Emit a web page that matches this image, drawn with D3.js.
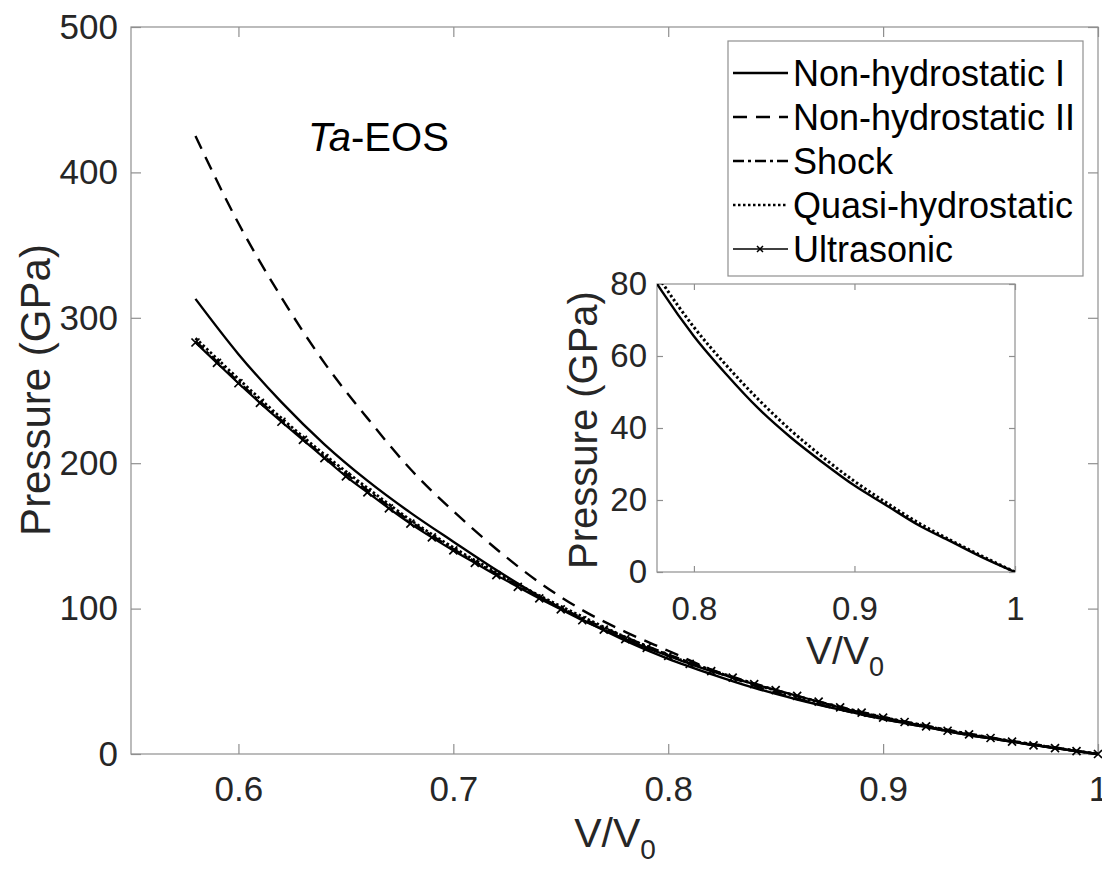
<!DOCTYPE html>
<html>
<head>
<meta charset="utf-8">
<script src="https://d3js.org/d3.v7.min.js"></script>
<style>
  body { margin: 0; background: #fff; font-family: "Liberation Sans", Arial, Helvetica, sans-serif; }
</style>
</head>
<body>
<script>
// V/V0 grid for the smooth EOS curves
const vGrid = [0.58, 0.60, 0.62, 0.64, 0.66, 0.68, 0.70, 0.72, 0.74, 0.76, 0.78,
               0.80, 0.82, 0.84, 0.86, 0.88, 0.90, 0.92, 0.94, 0.96, 0.98, 1.00]
const nonHydroI  = [313, 275, 242, 213, 188, 166, 146, 126.5, 108.5, 92.5, 78,
                    65.5, 55, 45.5, 37.5, 30.5, 24, 18.5, 13, 8.5, 4, 0]
const nonHydroII = [425, 365, 314, 269, 231, 196, 167, 141, 118, 99, 84,
                    71, 58, 47, 38, 30.5, 24, 18.5, 13, 8.5, 4, 0]
const shock      = [284, 256, 229.5, 204.5, 181.5, 160, 141, 124, 108, 93.5, 80.5,
                    68.5, 58, 48.5, 40, 32.5, 25.5, 19.5, 14, 9, 4.5, 0]
const quasi      = [286, 258, 231, 206, 183, 161, 142, 125, 109, 94.5, 80.5,
                    68, 57.5, 48, 39.5, 32, 25.2, 19.2, 13.6, 8.8, 4.3, 0]

// ultrasonic data (with markers)
const vUltra = [0.58, 0.59, 0.60, 0.61, 0.62, 0.63, 0.64, 0.65, 0.66, 0.67, 0.68, 0.69,
                0.70, 0.71, 0.72, 0.73, 0.74, 0.75, 0.76, 0.77, 0.78, 0.79, 0.80, 0.81,
                0.82, 0.83, 0.84, 0.85, 0.86, 0.87, 0.88, 0.89, 0.90, 0.91, 0.92, 0.93,
                0.94, 0.95, 0.96, 0.97, 0.98, 0.99, 1.00]
const ultrasonic = [283, 269, 255, 241.5, 228.5, 216, 203.5, 191, 180, 169, 158.5, 149,
                    140, 131.5, 123, 115, 107, 99.5, 92, 85.5, 79, 73, 67.5, 62,
                    57, 52.5, 48, 44, 40, 36, 32, 28.5, 25, 22, 19, 16,
                    13.5, 11, 8.5, 6, 4, 2, 0]

const mainXTicks = [0.6, 0.7, 0.8, 0.9, 1]
const mainYTicks = [0, 100, 200, 300, 400, 500]
const insetXTicks = [0.8, 0.9, 1]
const insetYTicks = [0, 20, 40, 60, 80]

const legendNames = ['Non-hydrostatic I', 'Non-hydrostatic II', 'Shock', 'Quasi-hydrostatic', 'Ultrasonic']
const dashes = ['none', '14,9', '11,4,3,4', '2.5,2.5', 'none']

const width = 1102, height = 876
const axisColor = '#8f8f8f', textColor = '#262626'

const svg = d3.select('body').append('svg').attr('width', width).attr('height', height)

function fmt(d) { return d === 1 ? '1' : String(d) }

function drawAxes(g, x, y, xt, yt, tick, fs, xPad, yPad) {
  const [x0, x1] = x.range(), [y0, y1] = y.range()
  g.append('rect').attr('x', x0).attr('y', y1).attr('width', x1 - x0).attr('height', y0 - y1)
    .attr('fill', 'none').attr('stroke', axisColor).attr('stroke-width', 1.2)
  const ax = [
    [d3.axisBottom(x).tickValues(xt).tickFormat(fmt).tickPadding(xPad), `translate(0,${y0})`],
    [d3.axisTop(x).tickValues(xt).tickFormat(''), `translate(0,${y1})`],
    [d3.axisLeft(y).tickValues(yt).tickFormat(d3.format('d')).tickPadding(yPad), `translate(${x0},0)`],
    [d3.axisRight(y).tickValues(yt).tickFormat(''), `translate(${x1},0)`]
  ]
  ax.forEach(([a, t]) => {
    const s = g.append('g').attr('transform', t)
      .call(a.tickSizeInner(-tick).tickSizeOuter(0))
    s.select('.domain').remove()
    s.selectAll('line').attr('stroke', axisColor).attr('stroke-width', 1.2)
    s.selectAll('text').attr('fill', textColor).style('font-size', fs + 'px')
      .style('font-family', '"Liberation Sans", Arial, sans-serif')
  })
}

// ---------- main axes ----------
const x = d3.scaleLinear().domain([0.55, 1]).range([131, 1098])
const y = d3.scaleLinear().domain([0, 500]).range([754, 27])

const main = svg.append('g')
drawAxes(main, x, y, mainXTicks, mainYTicks, 10, 35, 22, 13)

const line = d3.line().x(d => x(d[0])).y(d => y(d[1])).curve(d3.curveMonotoneX)
const series = [nonHydroI, nonHydroII, shock, quasi]
series.forEach((s, i) => {
  main.append('path').attr('d', line(vGrid.map((v, j) => [v, s[j]])))
    .attr('fill', 'none').attr('stroke', '#000')
    .attr('stroke-width', i === 3 ? 2.8 : 2.4)
    .attr('stroke-dasharray', dashes[i])
})
const ultraPts = vUltra.map((v, j) => [v, ultrasonic[j]])
main.append('path').attr('d', line(ultraPts))
  .attr('fill', 'none').attr('stroke', '#000').attr('stroke-width', 2.2)
const xMark = 'M-4,-4L4,4M-4,4L4,-4'
main.selectAll('.mk').data(ultraPts).join('path')
  .attr('transform', d => `translate(${x(d[0])},${y(d[1])})`)
  .attr('d', xMark).attr('stroke', '#000').attr('stroke-width', 1.7).attr('fill', 'none')

// labels
main.append('text').attr('transform', 'translate(50,390) rotate(-90)').attr('text-anchor', 'middle')
  .attr('fill', textColor).style('font-size', '42px').text('Pressure (GPa)')
const xl = main.append('text').attr('x', 615).attr('y', 847).attr('text-anchor', 'middle')
  .attr('fill', textColor).style('font-size', '41px')
xl.append('tspan').text('V/V')
xl.append('tspan').attr('dy', 12).style('font-size', '28px').text('0')

const ttl = main.append('text').attr('x', 308).attr('y', 151).attr('fill', '#000').style('font-size', '40px')
ttl.append('tspan').style('font-style', 'italic').text('Ta')
ttl.append('tspan').text('-EOS')

// ---------- legend ----------
const lg = svg.append('g')
lg.append('rect').attr('x', 728).attr('y', 41).attr('width', 355).attr('height', 235)
  .attr('fill', '#fff').attr('stroke', axisColor).attr('stroke-width', 1.2)
legendNames.forEach((name, i) => {
  const cy = 73 + i * 44
  lg.append('line').attr('x1', 733).attr('x2', 788).attr('y1', cy).attr('y2', cy)
    .attr('stroke', '#000').attr('stroke-width', i === 4 ? 1.6 : 2.4).attr('stroke-dasharray', dashes[i])
  if (i === 4) lg.append('path').attr('transform', `translate(760,${cy})`).attr('d', 'M-3,-3L3,3M-3,3L3,-3')
    .attr('stroke', '#000').attr('stroke-width', 1.5)
  lg.append('text').attr('x', 793).attr('y', cy + 13).attr('fill', '#000')
    .style('font-size', '36px').text(name)
})

// ---------- inset ----------
const xi = d3.scaleLinear().domain([0.777, 1]).range([657, 1015])
const yi = d3.scaleLinear().domain([0, 80]).range([572, 284])
const inset = svg.append('g')
inset.append('rect').attr('x', 657).attr('y', 284).attr('width', 358).attr('height', 288).attr('fill', '#fff')
drawAxes(inset, xi, yi, insetXTicks, insetYTicks, 6, 33, 25, 10)
svg.append('clipPath').attr('id', 'clipI').append('rect')
  .attr('x', 657).attr('y', 284).attr('width', 358).attr('height', 288)
const lineI = d3.line().x(d => xi(d[0])).y(d => yi(d[1])).curve(d3.curveMonotoneX)
;[[nonHydroI, 0], [quasi, 3]].forEach(([s, k]) => {
  inset.append('path').attr('clip-path', 'url(#clipI)')
    .attr('d', lineI(vGrid.map((v, j) => [v, s[j]])))
    .attr('fill', 'none').attr('stroke', '#000').attr('stroke-width', k === 3 ? 3 : 2.4)
    .attr('stroke-dasharray', dashes[k])
})
inset.append('text').attr('transform', 'translate(597,430) rotate(-90)').attr('text-anchor', 'middle')
  .attr('fill', textColor).style('font-size', '40px').text('Pressure (GPa)')
const xli = inset.append('text').attr('x', 845).attr('y', 664).attr('text-anchor', 'middle')
  .attr('fill', textColor).style('font-size', '39px')
xli.append('tspan').text('V/V')
xli.append('tspan').attr('dy', 12).style('font-size', '27px').text('0')
</script>
</body>
</html>
